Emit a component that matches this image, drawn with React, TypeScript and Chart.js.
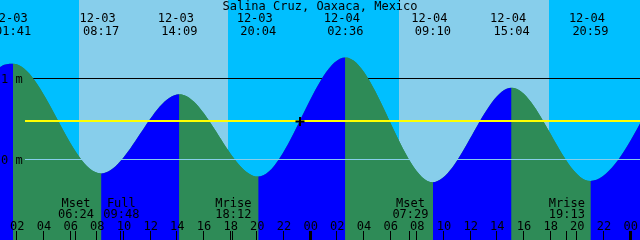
import { useEffect, useRef } from "react";
import { Chart, registerables } from "chart.js";

Chart.register(...registerables);

const TITLE = "Salina Cruz, Oaxaca, Mexico";

// Tide curve points (extremes plus one edge reading)
const TIDE_KIND = ["low", "edge", "high", "low", "high", "low", "high", "low", "high", "low", "high"];
const TIDE_DATES = ["12-02", "12-03", "12-03", "12-03", "12-03", "12-03", "12-04", "12-04", "12-04", "12-04", "12-05"];
const TIDE_TIMES = ["19:40", "00:43", "01:41", "08:17", "14:09", "20:04", "02:36", "09:10", "15:04", "20:59", "03:35"];
const TIDE_LEVELS = [-0.15, 1.15, 1.19, -0.18, 0.81, -0.22, 1.27, -0.29, 0.89, -0.275, 1.3];

// Moon events
const MOON_NAMES = ["Mset", "Full", "Mrise", "Mset", "Mrise"];
const MOON_DATES = ["12-03", "12-03", "12-03", "12-04", "12-04"];
const MOON_TIMES = ["06:24", "09:48", "18:12", "07:29", "19:13"];

// Daylight
const SUN_DATES = ["12-03", "12-04"];
const SUNRISE_TIMES = ["06:37", "06:37"];
const SUNSET_TIMES = ["17:49", "17:51"];

// Hour ticks (hours from 12-03 00:00)
const TICK_HOURS = [2, 4, 6, 8, 10, 12, 14, 16, 18, 20, 22, 24, 26, 28, 30, 32, 34, 36, 38, 40, 42, 44, 46, 48];
const TICK_LABELS = ["02", "04", "06", "08", "10", "12", "14", "16", "18", "20", "22", "00", "02", "04", "06", "08", "10", "12", "14", "16", "18", "20", "22", "00"];

// Level lines
const DEPTH_LEVELS = [1, 0];
const DEPTH_LABELS = ["1 m", "0 m"];
const MSL_LEVEL = 0.48;

// Current mark
const MARK_DATE = "12-03";
const MARK_TIME = "23:12";
const MARK_LEVEL = 0.47;

// View window
const VIEW_START = 0.7;
const VIEW_END = 48.7;
const LEVEL_MIN = -1.0125;
const LEVEL_MAX = 1.9875;

const NIGHT = "#00BFFF";
const DAY = "#87CEEB";
const FALLING = "#2E8B57";
const RISING = "#0000FF";
const MSL_COLOR = "#FFFF00";
const DATUM_COLOR = "#87CEEB";
const FONT = '12px "DejaVu Sans Mono", monospace';

const hoursOf = (date: string, time: string) => {
  const day = Number(date.slice(3)) - 3;
  const [hh, mm] = time.split(":").map(Number);
  return day * 24 + hh + mm / 60;
};

const decor = {
  id: "tideDecor",
  beforeDraw(chart: any) {
    const { ctx, chartArea: a, scales } = chart;
    const xs = scales.x, ys = scales.y;
    ctx.save();
    ctx.fillStyle = NIGHT;
    ctx.fillRect(a.left, a.top, a.right - a.left, a.bottom - a.top);
    ctx.fillStyle = DAY;
    for (let i = 0; i < SUN_DATES.length; i++) {
      const x0 = Math.round(xs.getPixelForValue(hoursOf(SUN_DATES[i], SUNRISE_TIMES[i])));
      const x1 = Math.round(xs.getPixelForValue(hoursOf(SUN_DATES[i], SUNSET_TIMES[i])));
      ctx.fillRect(x0, a.top, x1 - x0, a.bottom - a.top);
    }
    // 1 m line sits behind the water
    ctx.fillStyle = "#000";
    ctx.fillRect(a.left, Math.floor(ys.getPixelForValue(DEPTH_LEVELS[0])), a.right - a.left, 1);
    ctx.restore();
  },
  afterDatasetDraw(chart: any, args: any) {
    if (args.index !== 1) return;
    const { ctx, chartArea: a, scales } = chart;
    const ys = scales.y;
    ctx.save();
    ctx.fillStyle = MSL_COLOR;
    const my = Math.floor(ys.getPixelForValue(MSL_LEVEL));
    ctx.fillRect(25, my, a.right - 25, 2);
    ctx.fillStyle = DATUM_COLOR;
    ctx.fillRect(25, Math.floor(ys.getPixelForValue(DEPTH_LEVELS[1])), a.right - 25, 1);
    ctx.restore();
  },
  afterDraw(chart: any) {
    const { ctx, chartArea: a, scales } = chart;
    const xs = scales.x, ys = scales.y;
    ctx.save();
    ctx.font = FONT;
    ctx.fillStyle = "#000";
    ctx.textBaseline = "alphabetic";
    ctx.textAlign = "center";
    ctx.fillText(TITLE, (a.left + a.right) / 2, 10);
    // tide extremes along the top
    for (let i = 0; i < TIDE_KIND.length; i++) {
      if (TIDE_KIND[i] === "edge") continue;
      const px = xs.getPixelForValue(hoursOf(TIDE_DATES[i], TIDE_TIMES[i]));
      if (px < -40 || px > a.right + 40) continue;
      ctx.fillText(TIDE_DATES[i], px - 3.5, 22);
      ctx.fillText(TIDE_TIMES[i], px, 35);
    }
    // moon events
    for (let i = 0; i < MOON_NAMES.length; i++) {
      const px = xs.getPixelForValue(hoursOf(MOON_DATES[i], MOON_TIMES[i]));
      ctx.fillText(MOON_NAMES[i], px, 207);
      ctx.fillText(MOON_TIMES[i], px, 218);
      ctx.fillRect(Math.floor(px - 0.5), 231, 1, 9);
    }
    // hour ticks
    for (let i = 0; i < TICK_HOURS.length; i++) {
      const px = xs.getPixelForValue(TICK_HOURS[i]);
      ctx.fillText(TICK_LABELS[i], px, 230);
      const midnight = TICK_HOURS[i] % 24 === 0;
      if (midnight) ctx.fillRect(Math.floor(px - 1.5), 231, 3, 9);
      else ctx.fillRect(Math.floor(px - 0.5), 231, 1, 9);
    }
    // level labels
    ctx.textAlign = "left";
    for (let i = 0; i < DEPTH_LEVELS.length; i++) {
      const py = Math.floor(ys.getPixelForValue(DEPTH_LEVELS[i]));
      ctx.fillText(DEPTH_LABELS[i], 1, py + 5);
    }
    ctx.restore();
  },
};

export default function App() {
  const ref = useRef<HTMLCanvasElement | null>(null);
  useEffect(() => {
    if (!ref.current) return;
    const tideData = TIDE_TIMES.map((t, i) => ({ x: hoursOf(TIDE_DATES[i], t), y: TIDE_LEVELS[i] }));
    const chart = new Chart(ref.current, {
      type: "line",
      data: {
        datasets: [
          {
            data: [{ x: hoursOf(MARK_DATE, MARK_TIME), y: MARK_LEVEL }],
            showLine: false,
            pointStyle: "cross",
            pointRadius: 4.5,
            borderWidth: 2,
            borderColor: "#000",
            backgroundColor: "#000",
          },
          {
            data: tideData,
            borderColor: "rgba(0,0,0,0)",
            borderWidth: 0,
            pointRadius: 0,
            fill: "start",
            backgroundColor: FALLING,
            cubicInterpolationMode: "monotone",
            segment: {
              backgroundColor: (c: any) =>
                TIDE_LEVELS[c.p1DataIndex] > TIDE_LEVELS[c.p0DataIndex] ? RISING : FALLING,
            },
          },
          {
            // backing fill so segment seams do not show the sky
            data: tideData,
            borderColor: "rgba(0,0,0,0)",
            borderWidth: 0,
            pointRadius: 0,
            fill: "start",
            backgroundColor: FALLING,
            cubicInterpolationMode: "monotone",
          },
        ],
      } as any,
      options: {
        responsive: false,
        devicePixelRatio: 1,
        animation: false,
        events: [],
        layout: { padding: 0, autoPadding: false },
        elements: { line: { capBezierPoints: false } },
        plugins: { legend: { display: false }, tooltip: { enabled: false } },
        scales: {
          x: { type: "linear", display: false, min: VIEW_START, max: VIEW_END },
          y: { type: "linear", display: false, min: LEVEL_MIN, max: LEVEL_MAX },
        },
      } as any,
      plugins: [decor],
    });
    return () => chart.destroy();
  }, []);
  return (
    <div style={{ position: "absolute", left: 0, top: 0, width: 640, height: 240 }}>
      <canvas ref={ref} width={640} height={240} style={{ display: "block", width: 640, height: 240 }} />
    </div>
  );
}
